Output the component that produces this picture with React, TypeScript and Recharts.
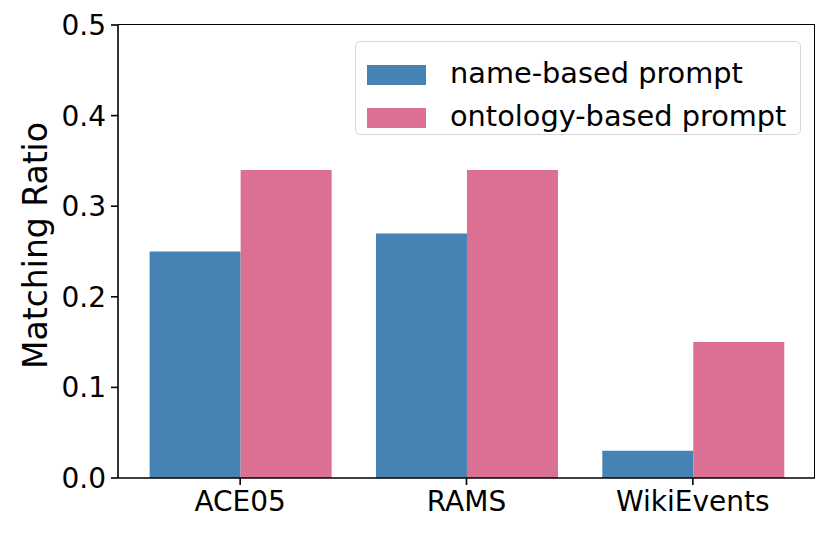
import React from 'react';
import { BarChart, Bar, XAxis, YAxis } from 'recharts';

const datasets = ['ACE05', 'RAMS', 'WikiEvents'];
const nameBased = [0.25, 0.27, 0.03];
const ontologyBased = [0.34, 0.34, 0.15];
const yTicks = [0, 0.1, 0.2, 0.3, 0.4, 0.5];
const seriesNames = ['name-based prompt', 'ontology-based prompt'];

const data = datasets.map((d, i) => ({
  dataset: d,
  name: nameBased[i],
  ontology: ontologyBased[i],
}));

const FONT = '"DejaVu Sans", sans-serif';
const BLUE = '#4682B4';
const PINK = '#DB7093';
const seriesColors = [BLUE, PINK];

function LegendBox() {
  return (
    <div
      style={{
        position: 'absolute',
        left: 355,
        top: 41,
        border: '1.5px solid #d6d6d6',
        borderRadius: 5,
        background: 'rgba(255,255,255,0.8)',
        padding: '11px 0 0 11px',
        boxSizing: 'border-box',
        width: 446,
        height: 94,
        fontFamily: FONT,
        fontSize: 28.8,
        color: '#000',
      }}
    >
      {seriesNames.map((n, i) => (
        <div key={n} style={{ display: 'flex', alignItems: 'center', height: 43 }}>
          <div style={{ width: 59, height: 20, background: seriesColors[i], marginRight: 24 }} />
          <span style={{ lineHeight: '30px', marginTop: -4, whiteSpace: 'nowrap' }}>{n}</span>
        </div>
      ))}
    </div>
  );
}

export default function App() {
  return (
    <div style={{ position: 'absolute', left: 0, top: 0, width: 830, height: 536, background: '#fff' }}>
      <BarChart
        width={830}
        height={536}
        data={data}
        margin={{ top: 25, right: 15, left: 0, bottom: 0 }}
        barCategoryGap="10%"
        barGap={0}
      >
        <XAxis
          dataKey="dataset"
          height={58}
          padding={{ left: 9, right: 9 }}
          tick={{ fontFamily: FONT, fontSize: 28, fill: '#000' }}
          tickSize={7}
          tickMargin={6}
          axisLine={{ stroke: '#000', strokeWidth: 1.6 }}
          tickLine={{ stroke: '#000', strokeWidth: 1.6 }}
        />
        <YAxis
          width={118}
          domain={[0, 0.5]}
          ticks={yTicks}
          tickFormatter={(v: number) => v.toFixed(1)}
          tick={{ fontFamily: FONT, fontSize: 28, fill: '#000' }}
          tickSize={7}
          tickMargin={5}
          axisLine={{ stroke: '#000', strokeWidth: 1.6 }}
          tickLine={{ stroke: '#000', strokeWidth: 1.6 }}
          label={{
            value: 'Matching Ratio',
            angle: -90,
            position: 'center',
            dx: -24,
            dy: -6,
            style: { fontFamily: FONT, fontSize: 33, fill: '#000', textAnchor: 'middle' },
          }}
        />
        <Bar dataKey="name" name={seriesNames[0]} fill={BLUE} isAnimationActive={false} />
        <Bar dataKey="ontology" name={seriesNames[1]} fill={PINK} isAnimationActive={false} />
      </BarChart>
      {/* top and right spines of the frame */}
      <div
        style={{
          position: 'absolute',
          left: 118,
          top: 24,
          width: 697,
          height: 454,
          borderTop: '1.6px solid #000',
          borderRight: '1.6px solid #000',
          boxSizing: 'border-box',
          pointerEvents: 'none',
        }}
      />
      <LegendBox />
    </div>
  );
}
